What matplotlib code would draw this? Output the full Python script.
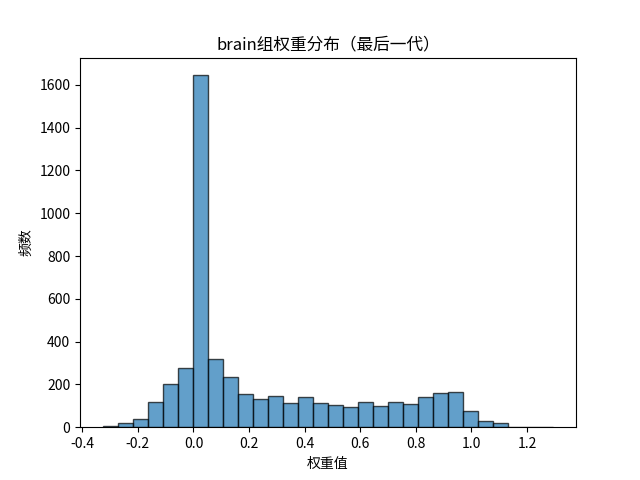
import numpy as np
import matplotlib
matplotlib.use("Agg")
import matplotlib.pyplot as plt

plt.rcParams['font.family'] = ['Noto Sans CJK SC', 'DejaVu Sans']
plt.rcParams['axes.unicode_minus'] = False

# histogram: 30 bins
bin_lo = -0.327
bin_hi = 1.295
counts = [5, 20, 40, 120, 200, 275, 1645, 320, 235, 155, 130, 145, 115, 140, 115,
          105, 95, 120, 100, 120, 110, 140, 160, 165, 75, 28, 18, 3, 2, 1]

edges = np.linspace(bin_lo, bin_hi, len(counts) + 1)

fig, ax = plt.subplots(figsize=(6.4, 4.8), dpi=100)
ax.hist(edges[:-1], bins=edges, weights=counts, color='C0', alpha=0.7, edgecolor='black')
ax.set_title('brain组权重分布（最后一代）')
ax.set_xlabel('权重值')
ax.set_ylabel('频数')
fig.savefig('out.png')
